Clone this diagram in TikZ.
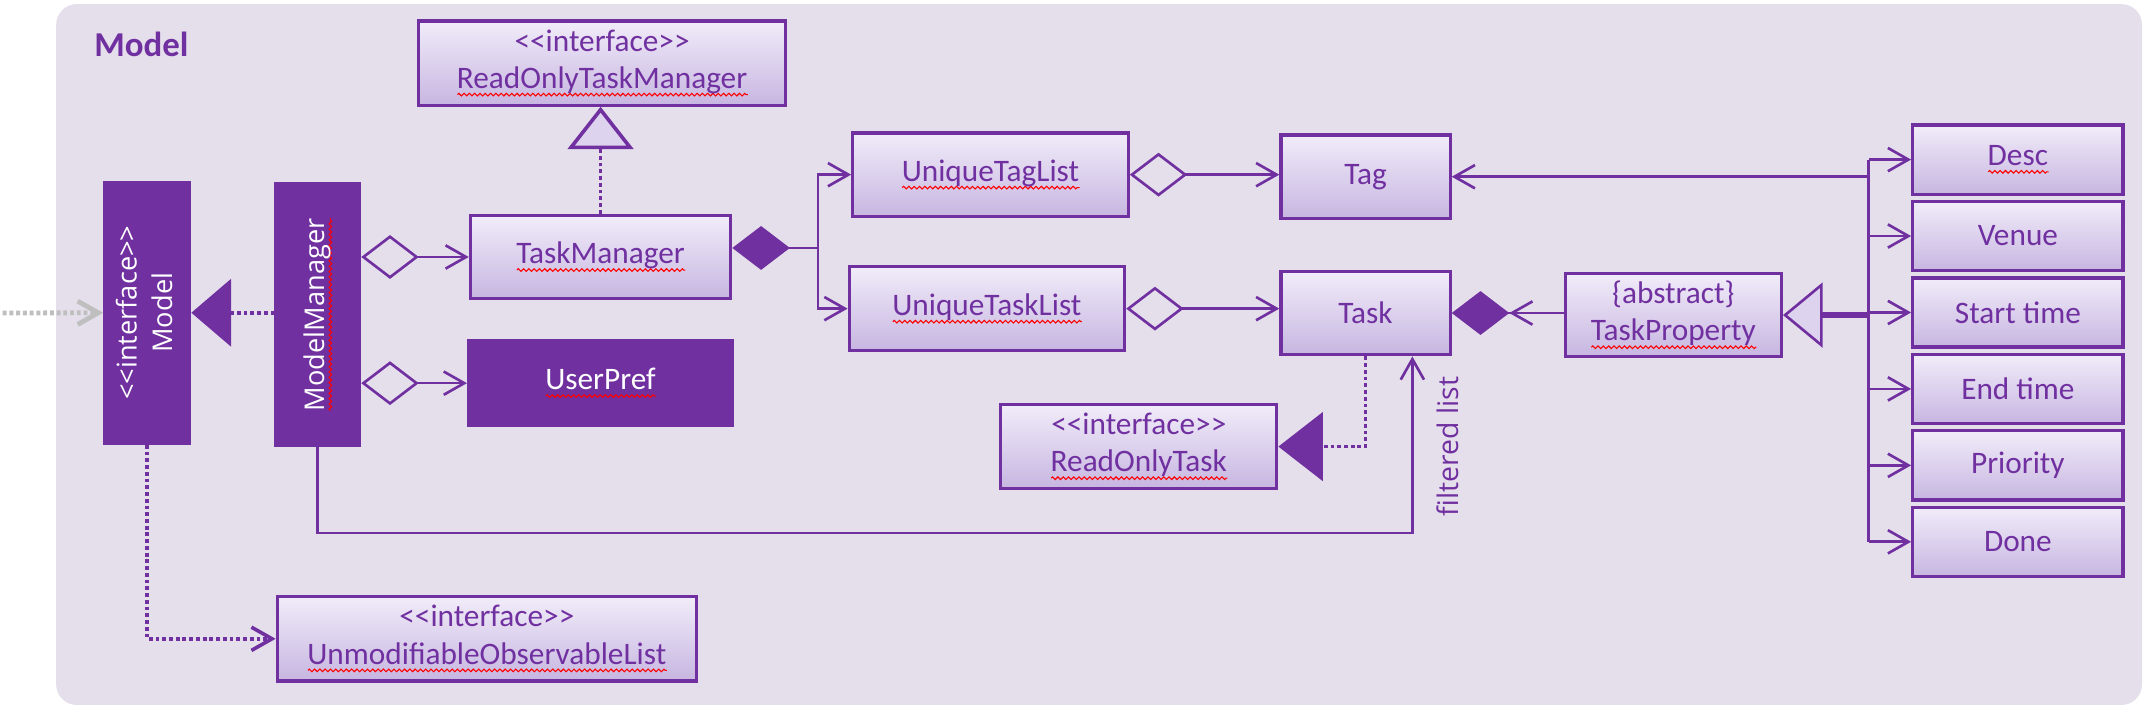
\documentclass[tikz,border=0pt]{standalone}
\usepackage{fontspec}
\usepackage{graphicx}
\setmainfont{Carlito}
\newfontfamily\opensans{Open Sans}
\usetikzlibrary{arrows.meta, decorations.pathmorphing}

\definecolor{umlpurple}{RGB}{112,48,160}
\definecolor{modelbg}{RGB}{229,223,236}
\definecolor{boxtop}{RGB}{241,236,249}
\definecolor{boxmid}{RGB}{222,211,238}
\definecolor{boxbottom}{RGB}{199,182,225}
\definecolor{extgrey}{RGB}{191,191,191}

\newsavebox\spellbox
\newcommand\umlstereo[1]{<\kern0pt<#1>\kern0pt>}
\newcommand\spellmark[1]{\sbox\spellbox{#1}\rlap{\tikz[baseline=0pt]\draw[red, line width=0.45pt,
    decorate, decoration={zigzag, amplitude=0.55pt, segment length=2.2pt}]
    (0pt,-2.6pt) -- (\the\wd\spellbox,-2.6pt);}\usebox\spellbox}

\begin{document}
\begin{tikzpicture}[x=0.02cm, y=-0.02cm,
    boxsize/.style 2 args={minimum width=#1*0.02cm, minimum height=#2*0.02cm},
    umlbox/.style={draw=umlpurple, line width=1.35pt, top color=boxtop, bottom color=boxbottom,
        text=umlpurple, font=\fontsize{13}{15.5}\selectfont, align=center, inner sep=0pt},
    darkbox/.style={draw=umlpurple, line width=1.35pt, fill=umlpurple, text=white,
        font=\fontsize{13}{15.5}\selectfont, align=center, inner sep=0pt},
    vlabel/.style={font=\opensans\fontsize{11.3}{14.8}\selectfont},
    link/.style={draw=umlpurple, line width=1.1pt},
    dots/.style={link, line width=1.5pt, dash pattern=on 1.6pt off 1.2pt},
    nav/.style={-{Straight Barb[length=0.3cm, width=0.34cm]}},
    agg/.style={{Diamond[open, length=0.84cm, width=0.64cm]}-{Straight Barb[length=0.3cm, width=0.34cm]}}
]
\useasboundingbox (0,0) rectangle (1568,520);
\fill[white] (0,0) rectangle (1568,520);
\fill[modelbg, rounded corners=0.3cm] (41,3) rectangle (1563.6,514.6);
\node[anchor=base west, text=umlpurple, font=\bfseries\fontsize{14.5}{17}\selectfont] (title) at (62.6,40.9) {Model};

% classes
\node[darkbox, vlabel, boxsize={62}{190.5}] (model) at (107.5,228.3)
    {\rotatebox{90}{\begin{tabular}{@{}c@{}}\umlstereo{interface}\\Model\end{tabular}}};
\node[darkbox, vlabel, boxsize={61}{191}] (mmgr) at (232,229.8) {\rotatebox{90}{\spellmark{ModelManager}}};
\node[darkbox, boxsize={192.5}{62}] (upref) at (438.3,279.7) {\spellmark{UserPref}};
\node[umlbox, boxsize={268}{61.5}] (rotmgr) at (439.5,46) {\umlstereo{interface}\\\spellmark{ReadOnlyTaskManager}};
\node[umlbox, boxsize={190}{61}] (tmgr) at (438.4,187.6) {\spellmark{TaskManager}};
\node[umlbox, boxsize={306}{61.5}] (uol) at (355.4,466.3) {\umlstereo{interface}\\\spellmark{UnmodifiableObservableList}};
\node[umlbox, boxsize={201}{61}] (utag) at (723,127.5) {\spellmark{UniqueTagList}};
\node[umlbox, boxsize={201}{61}] (utask) at (720.4,225.3) {\spellmark{UniqueTaskList}};
\node[umlbox, boxsize={123.5}{61}] (tag) at (996.8,129) {Tag};
\node[umlbox, boxsize={123.5}{61}] (task) at (996.8,228.5) {Task};
\node[umlbox, boxsize={201.4}{61}] (rotask) at (831.3,326) {\umlstereo{interface}\\\spellmark{ReadOnlyTask}};
\node[umlbox, boxsize={157.7}{61}] (tprop) at (1221.5,230) {\{abstract\}\\\spellmark{TaskProperty}};
\foreach \name/\txt [count=\i from 0] in {desc/\spellmark{Desc}, venue/Venue, tstart/Start time, tend/End time, prio/Priority, done/Done}
    \node[umlbox, boxsize={153.5}{50.5}] (\name) at (1473,116.5+55.8*\i) {\txt};

\coordinate (extern) at (2,228.5);
\coordinate (split) at (597,181);
\coordinate (fbend) at (1031,389);
\coordinate (trunk) at (1364,116.5);

% model side
\draw[dots, draw=extgrey, line width=2pt, nav] (extern) -- (model.west);
\draw[dots, -{Triangle[length=0.58cm, width=0.98cm, fill=umlpurple]}] (model.east -| mmgr.west) -- (model.east);
\draw[dots, nav] (model.south) |- (uol.west);
\draw[link, agg] (mmgr.east |- tmgr) -- (tmgr.west);
\draw[link, agg] (mmgr.east |- upref) -- (upref.west);
\draw[dots, -{Triangle[length=0.62cm, width=0.96cm, fill=boxmid]}] (tmgr.north) -- (tmgr.north |- rotmgr.south);
\draw[link, nav] (mmgr.south) |- (fbend) -- (fbend |- task.south);
\node[rotate=90, text=umlpurple, font=\opensans\fontsize{11.8}{14}\selectfont] (fltlabel) at (1057,326) {filtered list};

% task manager
\draw[link, {Diamond[length=0.84cm, width=0.64cm, fill=umlpurple]}-] (tmgr.east |- split) -- (split);
\draw[link, nav] (split) |- (utag.west);
\draw[link, nav] (split) |- (utask.west);
\draw[link, agg] (utag.east) -- (utag.east -| tag.west);
\draw[link, agg] (utask.east) -- (utask.east -| task.west);
\draw[link, -{Straight Barb[length=0.3cm, width=0.34cm] Diamond[length=0.84cm, width=0.64cm, fill=umlpurple]}] (task.east -| tprop.west) -- (task.east);
\draw[dots, -{Triangle[length=0.65cm, width=1cm, fill=umlpurple]}] (task.south) |- (rotask.east);

% properties
\draw[link] (trunk) -- (trunk |- done);
\draw[link, nav] (trunk |- tag) -- (tag.east);
\draw[link, line width=2.8pt, -{Triangle[length=0.58cm, width=0.95cm, fill=boxmid, line width=1.1pt]}] (trunk |- tprop) -- (tprop.east);
\foreach \name in {desc, venue, tstart, tend, prio, done}
    \draw[link, nav] (trunk |- \name) -- (\name.west);
\end{tikzpicture}
\end{document}
